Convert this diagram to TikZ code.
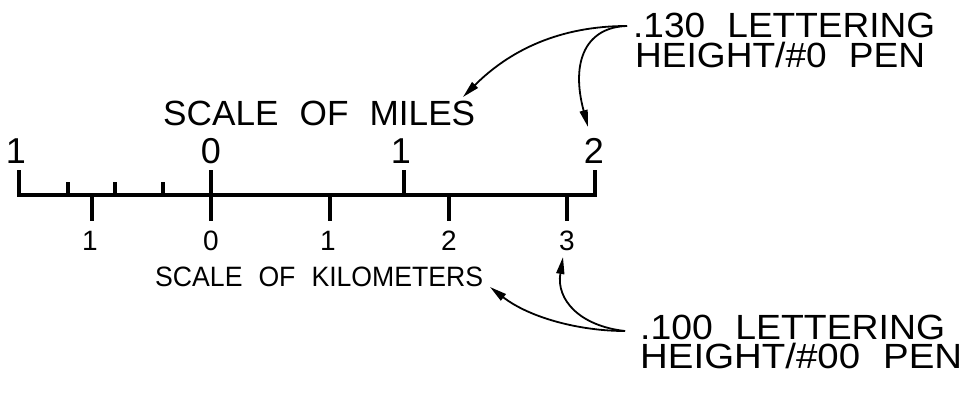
\documentclass[tikz,border=0pt]{standalone}
\usepackage{fontspec}
\setmainfont{Liberation Sans}
\usetikzlibrary{arrows.meta}
\newcommand\wsp{\hspace{0.6em}}
\newcommand\fitw[2]{\resizebox{#1pt}{\height}{#2}}
\begin{document}
\begin{tikzpicture}[x=1pt,y=-1pt,
  scaleline/.style={line width=3.3pt, line cap=butt, line join=miter},
  bigtxt/.style={inner sep=0pt, font=\fontsize{35}{40}\selectfont},
  bignum/.style={inner sep=0pt, font=\fontsize{36}{40}\selectfont},
  smalltxt/.style={inner sep=0pt, font=\fontsize{28}{32}\selectfont},
  leader/.style={line width=1.8pt, -{Triangle[length=17pt,width=8pt]}}]
\useasboundingbox (0,0) rectangle (967,394);
% scale bar
\draw[scaleline] (19,170) -- (19,195) -- (595,195) -- (595,170);
\foreach \x in {68,115,163} \draw[scaleline] (\x,182) -- (\x,195);
\draw[scaleline] (211,170) -- (211,221);
\draw[scaleline] (404,170) -- (404,195);
\foreach \x in {92,330,449,567} \draw[scaleline] (\x,195) -- (\x,221);
% titles
\node[bigtxt, anchor=base west] (miles) at (163,125) {\fitw{312}{SCALE\wsp OF\wsp MILES}};
\node[smalltxt, anchor=base west] (km) at (155,286) {\fitw{328}{SCALE\wsp OF\wsp KILOMETERS}};
% mile numbers
\node[bignum, anchor=base] (m1l) at (16,163) {1};
\node[bignum, anchor=base] (m0) at (211,163) {0};
\node[bignum, anchor=base] (m1) at (401,163) {1};
\node[bignum, anchor=base] (m2) at (594,163) {2};
% km numbers
\node[smalltxt, anchor=base] (k1l) at (90,250) {1};
\node[smalltxt, anchor=base] (k0) at (211,250) {0};
\node[smalltxt, anchor=base] (k1) at (328,250) {1};
\node[smalltxt, anchor=base] (k2) at (449,250) {2};
\node[smalltxt, anchor=base] (k3) at (567,250) {3};
% callouts
\node[bigtxt, anchor=base west] (c130) at (633,37) {\fitw{302}{.130\wsp LETTERING}};
\node[bigtxt, anchor=base west] (c130b) at (635,67) {\fitw{290}{HEIGHT/\#0\wsp PEN}};
\node[bigtxt, anchor=base west] (c100) at (640,339) {\fitw{305}{.100\wsp LETTERING}};
\node[bigtxt, anchor=base west] (c100b) at (640,368) {\fitw{322}{HEIGHT/\#00\wsp PEN}};
% leader points
\coordinate (s1) at (627,26);
\coordinate (s2) at (625,331);
\coordinate (t1) at (463,97);
\coordinate (t2) at (588,127);
\coordinate (t3) at (490,287);
\coordinate (t4) at (563,257);
\draw[leader] (s1) .. controls (560,26) and (510,50) .. (t1);
\draw[leader] (s1) .. controls (587,27) and (570,60) .. (t2);
\draw[leader] (s2) .. controls (580,331) and (530,318) .. (t3);
\draw[leader] (s2) .. controls (580,326) and (556,300) .. (t4);
\end{tikzpicture}
\end{document}
